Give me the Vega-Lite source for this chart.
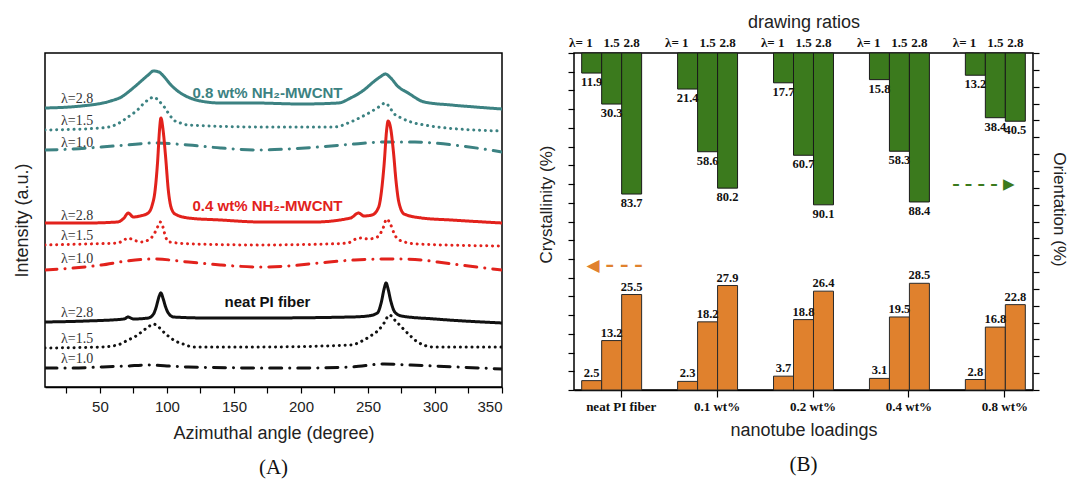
{
  "$schema": "https://vega.github.io/schema/vega-lite/v6.json",
  "background": "white",
  "padding": {"left": 12, "top": 12, "right": 5, "bottom": 5},
  "bounds": "flush",
  "align": "each",
  "spacing": 72,
  "config": {
    "view": {"stroke": "black", "strokeWidth": 1.5},
    "axis": {"labelFont": "Liberation Sans", "titleFont": "Liberation Sans", "titleFontWeight": "normal", "labelColor": "#222", "titleColor": "#222", "domainColor": "black", "tickColor": "black", "grid": false}
  },
  "datasets": {
    "curves": [
      {"s":"0.8","l":"2.8","a":9,"i":279},{"s":"0.8","l":"2.8","a":36,"i":281},{"s":"0.8","l":"2.8","a":58,"i":286},{"s":"0.8","l":"2.8","a":66,"i":290},{"s":"0.8","l":"2.8","a":73,"i":297},{"s":"0.8","l":"2.8","a":80,"i":305},{"s":"0.8","l":"2.8","a":86,"i":312},{"s":"0.8","l":"2.8","a":90,"i":316},{"s":"0.8","l":"2.8","a":94,"i":315},{"s":"0.8","l":"2.8","a":98,"i":310},{"s":"0.8","l":"2.8","a":103,"i":302},{"s":"0.8","l":"2.8","a":108,"i":296},{"s":"0.8","l":"2.8","a":114,"i":291},{"s":"0.8","l":"2.8","a":125,"i":286},{"s":"0.8","l":"2.8","a":140,"i":284},{"s":"0.8","l":"2.8","a":165,"i":284},{"s":"0.8","l":"2.8","a":200,"i":283},{"s":"0.8","l":"2.8","a":228,"i":284},{"s":"0.8","l":"2.8","a":237,"i":289},{"s":"0.8","l":"2.8","a":247,"i":297},{"s":"0.8","l":"2.8","a":254,"i":305},{"s":"0.8","l":"2.8","a":259,"i":310},{"s":"0.8","l":"2.8","a":263,"i":313},{"s":"0.8","l":"2.8","a":267,"i":309},{"s":"0.8","l":"2.8","a":272,"i":301},{"s":"0.8","l":"2.8","a":280,"i":294},{"s":"0.8","l":"2.8","a":292,"i":285},{"s":"0.8","l":"2.8","a":312,"i":282},{"s":"0.8","l":"2.8","a":330,"i":280},{"s":"0.8","l":"2.8","a":350,"i":278},
      {"s":"0.8","l":"1.5","a":9,"i":257},{"s":"0.8","l":"1.5","a":51,"i":259},{"s":"0.8","l":"1.5","a":63,"i":263},{"s":"0.8","l":"1.5","a":71,"i":270},{"s":"0.8","l":"1.5","a":78,"i":277},{"s":"0.8","l":"1.5","a":83,"i":284},{"s":"0.8","l":"1.5","a":87,"i":288},{"s":"0.8","l":"1.5","a":90,"i":290},{"s":"0.8","l":"1.5","a":94,"i":286},{"s":"0.8","l":"1.5","a":98,"i":280},{"s":"0.8","l":"1.5","a":102,"i":272},{"s":"0.8","l":"1.5","a":105,"i":267},{"s":"0.8","l":"1.5","a":110,"i":264},{"s":"0.8","l":"1.5","a":116,"i":262},{"s":"0.8","l":"1.5","a":170,"i":260},{"s":"0.8","l":"1.5","a":225,"i":260},{"s":"0.8","l":"1.5","a":237,"i":265},{"s":"0.8","l":"1.5","a":245,"i":270},{"s":"0.8","l":"1.5","a":252,"i":275},{"s":"0.8","l":"1.5","a":258,"i":280},{"s":"0.8","l":"1.5","a":263,"i":284},{"s":"0.8","l":"1.5","a":266,"i":280},{"s":"0.8","l":"1.5","a":269,"i":274},{"s":"0.8","l":"1.5","a":275,"i":269},{"s":"0.8","l":"1.5","a":282,"i":265},{"s":"0.8","l":"1.5","a":292,"i":262},{"s":"0.8","l":"1.5","a":302,"i":260},{"s":"0.8","l":"1.5","a":350,"i":256},
      {"s":"0.8","l":"1.0","a":9,"i":237},{"s":"0.8","l":"1.0","a":30,"i":238},{"s":"0.8","l":"1.0","a":51,"i":240},{"s":"0.8","l":"1.0","a":70,"i":242},{"s":"0.8","l":"1.0","a":90,"i":244},{"s":"0.8","l":"1.0","a":116,"i":242},{"s":"0.8","l":"1.0","a":140,"i":239},{"s":"0.8","l":"1.0","a":170,"i":237},{"s":"0.8","l":"1.0","a":190,"i":238},{"s":"0.8","l":"1.0","a":213,"i":240},{"s":"0.8","l":"1.0","a":240,"i":243},{"s":"0.8","l":"1.0","a":262,"i":245},{"s":"0.8","l":"1.0","a":285,"i":245},{"s":"0.8","l":"1.0","a":299,"i":244},{"s":"0.8","l":"1.0","a":320,"i":241},{"s":"0.8","l":"1.0","a":350,"i":235},
      {"s":"0.4","l":"2.8","a":9,"i":164},{"s":"0.4","l":"2.8","a":40,"i":164},{"s":"0.4","l":"2.8","a":63,"i":165},{"s":"0.4","l":"2.8","a":68,"i":169},{"s":"0.4","l":"2.8","a":71,"i":174},{"s":"0.4","l":"2.8","a":75,"i":170},{"s":"0.4","l":"2.8","a":80,"i":171},{"s":"0.4","l":"2.8","a":86,"i":174},{"s":"0.4","l":"2.8","a":89,"i":182},{"s":"0.4","l":"2.8","a":91,"i":195},{"s":"0.4","l":"2.8","a":93,"i":225},{"s":"0.4","l":"2.8","a":94.5,"i":258},{"s":"0.4","l":"2.8","a":95.5,"i":269},{"s":"0.4","l":"2.8","a":97,"i":258},{"s":"0.4","l":"2.8","a":99,"i":230},{"s":"0.4","l":"2.8","a":101,"i":197},{"s":"0.4","l":"2.8","a":103,"i":180},{"s":"0.4","l":"2.8","a":106,"i":173},{"s":"0.4","l":"2.8","a":116,"i":169},{"s":"0.4","l":"2.8","a":140,"i":167},{"s":"0.4","l":"2.8","a":170,"i":165},{"s":"0.4","l":"2.8","a":210,"i":165},{"s":"0.4","l":"2.8","a":237,"i":169},{"s":"0.4","l":"2.8","a":243,"i":174},{"s":"0.4","l":"2.8","a":247,"i":171},{"s":"0.4","l":"2.8","a":253,"i":172},{"s":"0.4","l":"2.8","a":258,"i":180},{"s":"0.4","l":"2.8","a":260,"i":195},{"s":"0.4","l":"2.8","a":262,"i":222},{"s":"0.4","l":"2.8","a":264,"i":258},{"s":"0.4","l":"2.8","a":265,"i":266},{"s":"0.4","l":"2.8","a":267,"i":258},{"s":"0.4","l":"2.8","a":269,"i":235},{"s":"0.4","l":"2.8","a":271,"i":205},{"s":"0.4","l":"2.8","a":273,"i":185},{"s":"0.4","l":"2.8","a":277,"i":173},{"s":"0.4","l":"2.8","a":290,"i":169},{"s":"0.4","l":"2.8","a":312,"i":167},{"s":"0.4","l":"2.8","a":350,"i":164},
      {"s":"0.4","l":"1.5","a":9,"i":142},{"s":"0.4","l":"1.5","a":40,"i":143},{"s":"0.4","l":"1.5","a":63,"i":144},{"s":"0.4","l":"1.5","a":68,"i":147},{"s":"0.4","l":"1.5","a":71,"i":149},{"s":"0.4","l":"1.5","a":75,"i":147},{"s":"0.4","l":"1.5","a":81,"i":145},{"s":"0.4","l":"1.5","a":86,"i":147},{"s":"0.4","l":"1.5","a":90,"i":152},{"s":"0.4","l":"1.5","a":93,"i":160},{"s":"0.4","l":"1.5","a":95,"i":165},{"s":"0.4","l":"1.5","a":97,"i":160},{"s":"0.4","l":"1.5","a":99,"i":150},{"s":"0.4","l":"1.5","a":102,"i":145},{"s":"0.4","l":"1.5","a":120,"i":143},{"s":"0.4","l":"1.5","a":170,"i":142},{"s":"0.4","l":"1.5","a":220,"i":143},{"s":"0.4","l":"1.5","a":235,"i":144},{"s":"0.4","l":"1.5","a":241,"i":148},{"s":"0.4","l":"1.5","a":245,"i":149},{"s":"0.4","l":"1.5","a":250,"i":148},{"s":"0.4","l":"1.5","a":257,"i":150},{"s":"0.4","l":"1.5","a":261,"i":158},{"s":"0.4","l":"1.5","a":264,"i":168},{"s":"0.4","l":"1.5","a":267,"i":162},{"s":"0.4","l":"1.5","a":270,"i":152},{"s":"0.4","l":"1.5","a":275,"i":146},{"s":"0.4","l":"1.5","a":287,"i":143},{"s":"0.4","l":"1.5","a":350,"i":141},
      {"s":"0.4","l":"1.0","a":9,"i":117},{"s":"0.4","l":"1.0","a":30,"i":119},{"s":"0.4","l":"1.0","a":51,"i":122},{"s":"0.4","l":"1.0","a":70,"i":126},{"s":"0.4","l":"1.0","a":90,"i":128},{"s":"0.4","l":"1.0","a":116,"i":125},{"s":"0.4","l":"1.0","a":140,"i":122},{"s":"0.4","l":"1.0","a":170,"i":120},{"s":"0.4","l":"1.0","a":190,"i":121},{"s":"0.4","l":"1.0","a":213,"i":124},{"s":"0.4","l":"1.0","a":240,"i":127},{"s":"0.4","l":"1.0","a":269,"i":128},{"s":"0.4","l":"1.0","a":290,"i":127},{"s":"0.4","l":"1.0","a":302,"i":125},{"s":"0.4","l":"1.0","a":325,"i":121},{"s":"0.4","l":"1.0","a":350,"i":117},
      {"s":"neat","l":"2.8","a":9,"i":65},{"s":"neat","l":"2.8","a":40,"i":66},{"s":"neat","l":"2.8","a":68,"i":68},{"s":"neat","l":"2.8","a":71,"i":70},{"s":"neat","l":"2.8","a":75,"i":68},{"s":"neat","l":"2.8","a":86,"i":69},{"s":"neat","l":"2.8","a":90,"i":73},{"s":"neat","l":"2.8","a":92,"i":80},{"s":"neat","l":"2.8","a":94,"i":90},{"s":"neat","l":"2.8","a":95.5,"i":94},{"s":"neat","l":"2.8","a":97,"i":89},{"s":"neat","l":"2.8","a":99,"i":80},{"s":"neat","l":"2.8","a":101,"i":74},{"s":"neat","l":"2.8","a":105,"i":70},{"s":"neat","l":"2.8","a":130,"i":69},{"s":"neat","l":"2.8","a":170,"i":69},{"s":"neat","l":"2.8","a":237,"i":70},{"s":"neat","l":"2.8","a":250,"i":71},{"s":"neat","l":"2.8","a":257,"i":74},{"s":"neat","l":"2.8","a":260,"i":85},{"s":"neat","l":"2.8","a":262,"i":98},{"s":"neat","l":"2.8","a":263.5,"i":104},{"s":"neat","l":"2.8","a":265,"i":98},{"s":"neat","l":"2.8","a":267,"i":86},{"s":"neat","l":"2.8","a":270,"i":75},{"s":"neat","l":"2.8","a":275,"i":71},{"s":"neat","l":"2.8","a":300,"i":68},{"s":"neat","l":"2.8","a":350,"i":64},
      {"s":"neat","l":"1.5","a":9,"i":39},{"s":"neat","l":"1.5","a":51,"i":40},{"s":"neat","l":"1.5","a":63,"i":42},{"s":"neat","l":"1.5","a":71,"i":47},{"s":"neat","l":"1.5","a":77,"i":51},{"s":"neat","l":"1.5","a":81,"i":55},{"s":"neat","l":"1.5","a":86,"i":60},{"s":"neat","l":"1.5","a":90,"i":63},{"s":"neat","l":"1.5","a":93,"i":61},{"s":"neat","l":"1.5","a":96,"i":57},{"s":"neat","l":"1.5","a":100,"i":52},{"s":"neat","l":"1.5","a":105,"i":47},{"s":"neat","l":"1.5","a":112,"i":43},{"s":"neat","l":"1.5","a":120,"i":40},{"s":"neat","l":"1.5","a":170,"i":40},{"s":"neat","l":"1.5","a":237,"i":42},{"s":"neat","l":"1.5","a":247,"i":47},{"s":"neat","l":"1.5","a":253,"i":52},{"s":"neat","l":"1.5","a":258,"i":57},{"s":"neat","l":"1.5","a":262,"i":64},{"s":"neat","l":"1.5","a":266,"i":72},{"s":"neat","l":"1.5","a":270,"i":67},{"s":"neat","l":"1.5","a":275,"i":60},{"s":"neat","l":"1.5","a":281,"i":52},{"s":"neat","l":"1.5","a":287,"i":45},{"s":"neat","l":"1.5","a":299,"i":40},{"s":"neat","l":"1.5","a":350,"i":40},
      {"s":"neat","l":"1.0","a":9,"i":19},{"s":"neat","l":"1.0","a":30,"i":19},{"s":"neat","l":"1.0","a":51,"i":20},{"s":"neat","l":"1.0","a":70,"i":21},{"s":"neat","l":"1.0","a":86,"i":22},{"s":"neat","l":"1.0","a":100,"i":21},{"s":"neat","l":"1.0","a":116,"i":20},{"s":"neat","l":"1.0","a":170,"i":19},{"s":"neat","l":"1.0","a":200,"i":19},{"s":"neat","l":"1.0","a":237,"i":20},{"s":"neat","l":"1.0","a":262,"i":23},{"s":"neat","l":"1.0","a":280,"i":22},{"s":"neat","l":"1.0","a":299,"i":21},{"s":"neat","l":"1.0","a":350,"i":18}
    ],
    "lamlabels": [
      {"a":21,"i":284,"t":"λ=2.8"},{"a":21,"i":262,"t":"λ=1.5"},{"a":21,"i":240,"t":"λ=1.0"},
      {"a":21,"i":167,"t":"λ=2.8"},{"a":21,"i":147,"t":"λ=1.5"},{"a":21,"i":124,"t":"λ=1.0"},
      {"a":21,"i":70,"t":"λ=2.8"},{"a":21,"i":44,"t":"λ=1.5"},{"a":21,"i":24,"t":"λ=1.0"}
    ],
    "serieslabels": [
      {"a":175,"i":294,"t":"0.8 wt% NH₂-MWCNT","s":"0.8"},
      {"a":175,"i":181,"t":"0.4 wt% NH₂-MWCNT","s":"0.4"},
      {"a":175,"i":85,"t":"neat PI fiber","s":"neat"}
    ],
    "bars": [
      {"loading":"neat PI fiber","ratio":"1","rl":"λ= 1","cryst":2.5,"orient":11.9},
      {"loading":"neat PI fiber","ratio":"1.5","rl":"1.5","cryst":13.2,"orient":30.3},
      {"loading":"neat PI fiber","ratio":"2.8","rl":"2.8","cryst":25.5,"orient":83.7},
      {"loading":"0.1 wt%","ratio":"1","rl":"λ= 1","cryst":2.3,"orient":21.4},
      {"loading":"0.1 wt%","ratio":"1.5","rl":"1.5","cryst":18.2,"orient":58.6},
      {"loading":"0.1 wt%","ratio":"2.8","rl":"2.8","cryst":27.9,"orient":80.2},
      {"loading":"0.2 wt%","ratio":"1","rl":"λ= 1","cryst":3.7,"orient":17.7},
      {"loading":"0.2 wt%","ratio":"1.5","rl":"1.5","cryst":18.8,"orient":60.7},
      {"loading":"0.2 wt%","ratio":"2.8","rl":"2.8","cryst":26.4,"orient":90.1},
      {"loading":"0.4 wt%","ratio":"1","rl":"λ= 1","cryst":3.1,"orient":15.8},
      {"loading":"0.4 wt%","ratio":"1.5","rl":"1.5","cryst":19.5,"orient":58.3},
      {"loading":"0.4 wt%","ratio":"2.8","rl":"2.8","cryst":28.5,"orient":88.4},
      {"loading":"0.8 wt%","ratio":"1","rl":"λ= 1","cryst":2.8,"orient":13.2},
      {"loading":"0.8 wt%","ratio":"1.5","rl":"1.5","cryst":16.8,"orient":38.4},
      {"loading":"0.8 wt%","ratio":"2.8","rl":"2.8","cryst":22.8,"orient":40.5}
    ],
    "arrows": [
      {"k":"c","loading":"neat PI fiber","v":33,"t":"◀ – – –"},
      {"k":"o","loading":"0.8 wt%","v":78,"t":"– – – – ▶"}
    ]
  },
  "hconcat": [
    {
      "width": 457,
      "height": 334,
      "title": {"text": "(A)", "orient": "bottom", "font": "Liberation Serif", "fontSize": 21, "fontWeight": "normal", "offset": 15, "color": "#111"},
      "layer": [
        {
          "data": {"name": "curves"},
          "mark": {"type": "line", "interpolate": "monotone", "strokeWidth": 3, "strokeCap": "round", "clip": true},
          "encoding": {
            "x": {"field": "a", "type": "quantitative", "scale": {"domain": [9, 350], "nice": false, "zero": false},
                  "axis": {"title": "Azimuthal angle (degree)", "values": [25,50,75,100,125,150,175,200,225,250,275,300,325,350], "labelExpr": "datum.value % 50 ? '' : format(datum.value, 'd')", "tickSize": 6, "tickWidth": 1.2, "labelFontSize": 15, "titleFontSize": 18, "labelPadding": 6, "titlePadding": 10, "domainWidth": 1.5, "labelColor": "#222"}},
            "y": {"field": "i", "type": "quantitative", "scale": {"domain": [0, 334], "nice": false, "zero": false},
                  "axis": {"title": "Intensity (a.u.)", "labels": false, "ticks": false, "domain": false, "titleFontSize": 18, "titlePadding": 14}},
            "color": {"field": "s", "type": "nominal", "scale": {"domain": ["0.8", "0.4", "neat"], "range": ["#3c8282", "#e2221c", "#111111"]}, "legend": null},
            "strokeDash": {"field": "l", "type": "nominal", "scale": {"domain": ["2.8", "1.5", "1.0"], "range": [[1, 0], [0.1, 5.7], [12, 8, 0.1, 8]]}, "legend": null}
          }
        },
        {
          "data": {"name": "lamlabels"},
          "mark": {"type": "text", "align": "left", "baseline": "alphabetic", "font": "Liberation Serif", "fontSize": 14, "color": "#333"},
          "encoding": {
            "x": {"field": "a", "type": "quantitative",
                  "axis": {"title": "Azimuthal angle (degree)", "values": [25,50,75,100,125,150,175,200,225,250,275,300,325,350], "labelExpr": "datum.value % 50 ? '' : format(datum.value, 'd')", "tickSize": 6, "tickWidth": 1.2, "labelFontSize": 15, "titleFontSize": 18, "labelPadding": 6, "titlePadding": 10, "domainWidth": 1.5, "labelColor": "#222"}},
            "y": {"field": "i", "type": "quantitative",
                  "axis": {"title": "Intensity (a.u.)", "labels": false, "ticks": false, "domain": false, "titleFontSize": 18, "titlePadding": 14}},
            "text": {"field": "t", "type": "nominal"}
          }
        },
        {
          "data": {"name": "serieslabels"},
          "mark": {"type": "text", "align": "center", "baseline": "middle", "font": "Liberation Sans", "fontWeight": "bold", "fontSize": 15},
          "encoding": {
            "x": {"field": "a", "type": "quantitative",
                  "axis": {"title": "Azimuthal angle (degree)", "values": [25,50,75,100,125,150,175,200,225,250,275,300,325,350], "labelExpr": "datum.value % 50 ? '' : format(datum.value, 'd')", "tickSize": 6, "tickWidth": 1.2, "labelFontSize": 15, "titleFontSize": 18, "labelPadding": 6, "titlePadding": 10, "domainWidth": 1.5, "labelColor": "#222"}},
            "y": {"field": "i", "type": "quantitative",
                  "axis": {"title": "Intensity (a.u.)", "labels": false, "ticks": false, "domain": false, "titleFontSize": 18, "titlePadding": 14}},
            "text": {"field": "t", "type": "nominal"},
            "color": {"field": "s", "type": "nominal", "legend": null}
          }
        }
      ]
    },
    {
      "width": 459,
      "height": 337,
      "title": {"text": "(B)", "orient": "bottom", "font": "Liberation Serif", "fontSize": 21, "fontWeight": "normal", "offset": 15, "color": "#111"},
      "data": {"name": "bars"},
      "resolve": {"scale": {"y": "independent"}, "axis": {"x": "independent", "y": "independent"}},
      "layer": [
        {
          "layer": [
            {
              "mark": {"type": "bar", "fill": "#e0812d", "stroke": "#2a2a2a", "strokeWidth": 1},
              "encoding": {
                "x": {"field": "loading", "type": "nominal", "sort": null,
                      "scale": {"domain": ["neat PI fiber", "0.1 wt%", "0.2 wt%", "0.4 wt%", "0.8 wt%"], "paddingInner": 0.375, "paddingOuter": 0.08},
                      "axis": {"title": "nanotube loadings", "labelFont": "Liberation Serif", "labelFontWeight": "bold", "labelFontSize": 13, "labelColor": "#111", "labelAngle": 0, "tickSize": 7, "tickWidth": 1.2, "tickOffset": 9, "labelPadding": 3, "titleFontSize": 18, "titlePadding": 8, "domain": true, "domainWidth": 1.5}},
                "xOffset": {"field": "ratio", "type": "nominal", "scale": {"domain": ["1", "1.5", "2.8"], "paddingInner": 0, "paddingOuter": 0}},
                "y": {"field": "cryst", "type": "quantitative", "scale": {"domain": [0, 90], "nice": false, "zero": true},
                      "axis": {"title": "Crystallinity (%)", "labels": false, "values": [0,5,10,15,20,25,30,35,40,45,50,55,60,65,70,75,80,85,90], "tickSize": 6, "tickWidth": 1.2, "domain": false, "titleFontSize": 17, "titlePadding": 12, "titleY": 151}}
              }
            },
            {
              "mark": {"type": "text", "font": "Liberation Serif", "fontWeight": "bold", "fontSize": 12.5, "baseline": "bottom", "dy": -1, "color": "#111"},
              "encoding": {
                "x": {"field": "loading", "type": "nominal", "sort": null,
                      "axis": {"title": "nanotube loadings", "labelFont": "Liberation Serif", "labelFontWeight": "bold", "labelFontSize": 13, "labelColor": "#111", "labelAngle": 0, "tickSize": 7, "tickWidth": 1.2, "tickOffset": 9, "labelPadding": 3, "titleFontSize": 18, "titlePadding": 8, "domain": true, "domainWidth": 1.5}},
                "xOffset": {"field": "ratio", "type": "nominal"},
                "y": {"field": "cryst", "type": "quantitative",
                      "axis": {"title": "Crystallinity (%)", "labels": false, "values": [0,5,10,15,20,25,30,35,40,45,50,55,60,65,70,75,80,85,90], "tickSize": 6, "tickWidth": 1.2, "domain": false, "titleFontSize": 17, "titlePadding": 12, "titleY": 151}},
                "text": {"field": "cryst", "type": "quantitative", "format": ".1f"}
              }
            },
            {
              "data": {"name": "arrows"},
              "transform": [{"filter": "datum.k === 'c'"}],
              "mark": {"type": "text", "font": "DejaVu Sans", "fontWeight": "bold", "fontSize": 17, "baseline": "middle", "dx": 3, "color": "#e0812d"},
              "encoding": {
                "x": {"field": "loading", "type": "nominal", "sort": null,
                      "axis": {"title": "nanotube loadings", "labelFont": "Liberation Serif", "labelFontWeight": "bold", "labelFontSize": 13, "labelColor": "#111", "labelAngle": 0, "tickSize": 7, "tickWidth": 1.2, "tickOffset": 9, "labelPadding": 3, "titleFontSize": 18, "titlePadding": 8, "domain": true, "domainWidth": 1.5}},
                "y": {"field": "v", "type": "quantitative",
                      "axis": {"title": "Crystallinity (%)", "labels": false, "values": [0,5,10,15,20,25,30,35,40,45,50,55,60,65,70,75,80,85,90], "tickSize": 6, "tickWidth": 1.2, "domain": false, "titleFontSize": 17, "titlePadding": 12, "titleY": 151}},
                "text": {"field": "t", "type": "nominal"}
              }
            }
          ]
        },
        {
          "layer": [
            {
              "mark": {"type": "bar", "fill": "#3b7a1d", "stroke": "#1a1a1a", "strokeWidth": 1},
              "encoding": {
                "x": {"field": "loading", "type": "nominal", "sort": null, "axis": null},
                "xOffset": {"field": "ratio", "type": "nominal"},
                "y": {"field": "orient", "type": "quantitative", "scale": {"domain": [0, 200], "reverse": true, "nice": false, "zero": true},
                      "axis": {"orient": "right", "title": "Orientation (%)", "labels": false, "values": [0,10,20,30,40,50,60,70,80,90,100,110,120,130,140,150,160,170,180,190,200], "tickSize": 6, "tickWidth": 1.2, "domain": false, "titleFontSize": 17, "titlePadding": 10, "titleY": 156}}
              }
            },
            {
              "mark": {"type": "text", "font": "Liberation Serif", "fontWeight": "bold", "fontSize": 12.5, "baseline": "top", "dy": 3, "color": "#111"},
              "encoding": {
                "x": {"field": "loading", "type": "nominal", "sort": null, "axis": null},
                "xOffset": {"field": "ratio", "type": "nominal"},
                "y": {"field": "orient", "type": "quantitative",
                      "axis": {"orient": "right", "title": "Orientation (%)", "labels": false, "values": [0,10,20,30,40,50,60,70,80,90,100,110,120,130,140,150,160,170,180,190,200], "tickSize": 6, "tickWidth": 1.2, "domain": false, "titleFontSize": 17, "titlePadding": 10, "titleY": 156}},
                "text": {"field": "orient", "type": "quantitative", "format": ".1f"}
              }
            },
            {
              "data": {"name": "arrows"},
              "transform": [{"filter": "datum.k === 'o'"}],
              "mark": {"type": "text", "font": "DejaVu Sans", "fontWeight": "bold", "fontSize": 15, "baseline": "middle", "dx": -12, "color": "#3b7a1d"},
              "encoding": {
                "x": {"field": "loading", "type": "nominal", "sort": null, "axis": null},
                "y": {"field": "v", "type": "quantitative",
                      "axis": {"orient": "right", "title": "Orientation (%)", "labels": false, "values": [0,10,20,30,40,50,60,70,80,90,100,110,120,130,140,150,160,170,180,190,200], "tickSize": 6, "tickWidth": 1.2, "domain": false, "titleFontSize": 17, "titlePadding": 10, "titleY": 156}},
                "text": {"field": "t", "type": "nominal"}
              }
            }
          ]
        },
        {
          "layer": [
            {
              "transform": [{"filter": "datum.ratio === '1'"}],
              "mark": {"type": "text", "font": "Liberation Serif", "fontWeight": "bold", "fontSize": 13, "baseline": "bottom", "align": "right", "dx": 1, "dy": -3, "color": "#111"},
              "encoding": {
                "x": {"field": "loading", "type": "nominal", "sort": null,
                      "axis": {"orient": "top", "title": "drawing ratios", "labels": false, "ticks": false, "domain": false, "titleFontSize": 18, "titlePadding": 22}},
                "xOffset": {"field": "ratio", "type": "nominal"},
                "y": {"datum": 0, "type": "quantitative", "scale": {"domain": [0, 200], "reverse": true, "nice": false}, "axis": null},
                "text": {"field": "rl", "type": "nominal"}
              }
            },
            {
              "transform": [{"filter": "datum.ratio !== '1'"}],
              "mark": {"type": "text", "font": "Liberation Serif", "fontWeight": "bold", "fontSize": 13, "baseline": "bottom", "align": "center", "dy": -3, "color": "#111"},
              "encoding": {
                "x": {"field": "loading", "type": "nominal", "sort": null,
                      "axis": {"orient": "top", "title": "drawing ratios", "labels": false, "ticks": false, "domain": false, "titleFontSize": 18, "titlePadding": 22}},
                "xOffset": {"field": "ratio", "type": "nominal"},
                "y": {"datum": 0, "type": "quantitative", "axis": null},
                "text": {"field": "rl", "type": "nominal"}
              }
            }
          ]
        }
      ]
    }
  ]
}
